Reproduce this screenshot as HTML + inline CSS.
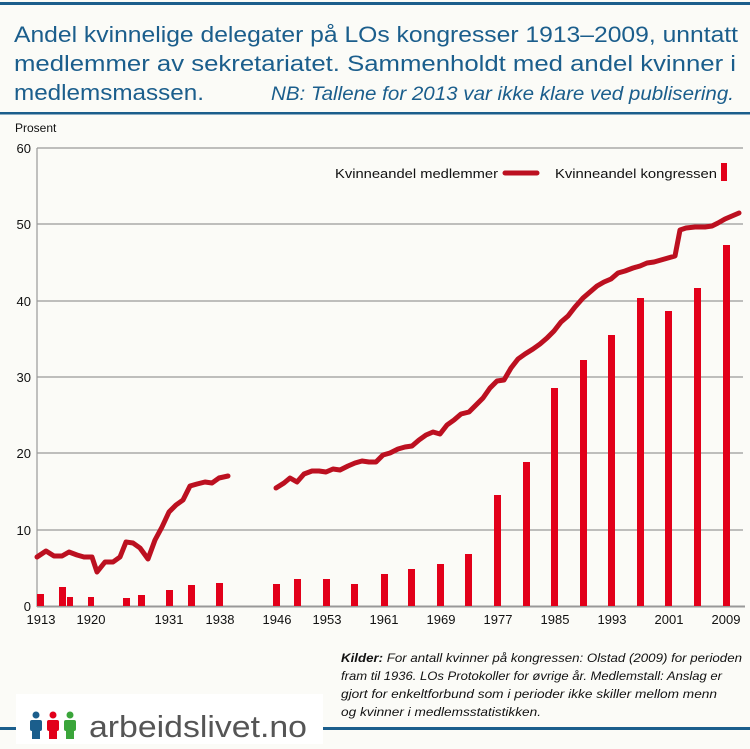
<!DOCTYPE html>
<html><head><meta charset="utf-8"><style>html,body{margin:0;padding:0;background:#fbfbf7}</style></head>
<body>
<svg width="750" height="744" viewBox="0 0 750 744" xmlns="http://www.w3.org/2000/svg" font-family="Liberation Sans, sans-serif">
<rect width="750" height="744" fill="#fbfbf7"/>
<rect x="0" y="2" width="750" height="3" fill="#1b5e8c"/>
<rect x="0" y="112" width="750" height="2.5" fill="#1b5e8c"/>
<g fill="#1b5e8c" font-size="22">
<text x="14" y="42" textLength="724" lengthAdjust="spacingAndGlyphs">Andel kvinnelige delegater på LOs kongresser 1913–2009, unntatt</text>
<text x="14" y="71" textLength="722" lengthAdjust="spacingAndGlyphs">medlemmer av sekretariatet. Sammenholdt med andel kvinner i</text>
<text x="14" y="100" textLength="190" lengthAdjust="spacingAndGlyphs">medlemsmassen.</text>
<text x="271" y="100" font-size="19" font-style="italic" textLength="463" lengthAdjust="spacingAndGlyphs">NB: Tallene for 2013 var ikke klare ved publisering.</text>
</g>
<text x="15" y="132" font-size="12" fill="#111">Prosent</text>
<g stroke="#999" stroke-width="1.2">
<line x1="37" y1="148" x2="743" y2="148"/><line x1="37" y1="224" x2="743" y2="224"/><line x1="37" y1="301" x2="743" y2="301"/><line x1="37" y1="377" x2="743" y2="377"/><line x1="37" y1="453" x2="743" y2="453"/><line x1="37" y1="530" x2="743" y2="530"/>
<line x1="37" y1="148" x2="37" y2="607"/>
</g>
<line x1="37" y1="606.5" x2="745" y2="606.5" stroke="#999" stroke-width="2"/>
<g font-size="13" fill="#111" text-anchor="end">
<text x="31" y="153">60</text><text x="31" y="229">50</text><text x="31" y="306">40</text><text x="31" y="382">30</text><text x="31" y="458">20</text><text x="31" y="535">10</text><text x="31" y="611">0</text>
</g>
<g fill="#e2001a">
<rect x="37" y="594" width="7" height="12"/><rect x="59" y="587" width="7" height="19"/><rect x="67" y="597" width="6" height="9"/><rect x="88" y="597" width="6" height="9"/><rect x="123" y="598" width="7" height="8"/><rect x="138" y="595" width="7" height="11"/><rect x="166" y="590" width="7" height="16"/><rect x="188" y="585" width="7" height="21"/><rect x="216" y="583" width="7" height="23"/><rect x="273" y="584" width="7" height="22"/><rect x="294" y="579" width="7" height="27"/><rect x="323" y="579" width="7" height="27"/><rect x="351" y="584" width="7" height="22"/><rect x="381" y="574" width="7" height="32"/><rect x="408" y="569" width="7" height="37"/><rect x="437" y="564" width="7" height="42"/><rect x="465" y="554" width="7" height="52"/><rect x="494" y="495" width="7" height="111"/><rect x="523" y="462" width="7" height="144"/><rect x="551" y="388" width="7" height="218"/><rect x="580" y="360" width="7" height="246"/><rect x="608" y="335" width="7" height="271"/><rect x="637" y="298" width="7" height="308"/><rect x="665" y="311" width="7" height="295"/><rect x="694" y="288" width="7" height="318"/><rect x="723" y="245" width="7" height="361"/>
<rect x="721" y="163" width="6" height="18"/>
</g>
<g fill="none" stroke="#bc1020" stroke-width="5" stroke-linejoin="round" stroke-linecap="round">
<polyline points="37,557 46,551 54,556 62,556 69,552 77,555 84,557 92,557 97,572 105,562 113,562 120,557 126,542 133,543 140,548 148,559 155,540 162,527 169,512 176,505 183,500 190,486 197,484 205,482 212,483 219,478 228,476"/>
<polyline points="276,488 284,483 290,478 297,482 304,474 312,471 319,471 326,472 333,469 340,470 348,466 355,463 362,461 369,462 376,462 383,455 390,453 398,449 405,447 412,446 419,440 426,435 433,432 440,434 447,425 454,420 461,414 469,412 476,405 483,398 490,388 497,381 504,380 511,368 518,359 525,354 533,349 540,344 547,338 554,331 561,322 568,316 575,307 583,298 590,292 597,286 604,282 611,279 618,273 625,271 633,268 640,266 647,263 654,262 661,260 668,258 675,256 680,230 686,228 695,227 705,227 712,226 718,223 725,219 732,216 739,213"/>
<line x1="505" y1="173" x2="537" y2="173"/>
</g>
<g font-size="13" fill="#111">
<text x="335" y="178" textLength="163" lengthAdjust="spacingAndGlyphs">Kvinneandel medlemmer</text>
<text x="555" y="178" textLength="162" lengthAdjust="spacingAndGlyphs">Kvinneandel kongressen</text>
</g>
<g font-size="13" fill="#111" text-anchor="middle">
<text x="41" y="624">1913</text><text x="91" y="624">1920</text><text x="169" y="624">1931</text><text x="220" y="624">1938</text><text x="277" y="624">1946</text><text x="327" y="624">1953</text><text x="384" y="624">1961</text><text x="441" y="624">1969</text><text x="498" y="624">1977</text><text x="555" y="624">1985</text><text x="612" y="624">1993</text><text x="669" y="624">2001</text><text x="726" y="624">2009</text>
</g>
<g font-size="12" font-style="italic" fill="#111">
<text x="341" y="662" textLength="401" lengthAdjust="spacingAndGlyphs"><tspan font-weight="bold">Kilder:</tspan>  For antall kvinner på kongressen: Olstad (2009) for perioden</text>
<text x="341" y="680" textLength="381" lengthAdjust="spacingAndGlyphs">fram til 1936. LOs Protokoller for øvrige år.  Medlemstall: Anslag er</text>
<text x="341" y="698" textLength="376" lengthAdjust="spacingAndGlyphs">gjort for  enkeltforbund som i perioder ikke skiller mellom menn</text>
<text x="341" y="716" textLength="200" lengthAdjust="spacingAndGlyphs">og kvinner  i medlemsstatistikken.</text>
</g>
<rect x="0" y="727" width="750" height="3" fill="#1b5e8c"/>
<rect x="16" y="694" width="307" height="50" fill="#ffffff"/>
<g>
<circle cx="36" cy="715" r="3.5" fill="#1b5e8c"/><rect x="30" y="720" width="12" height="11" rx="2" fill="#1b5e8c"/><rect x="32" y="729" width="8" height="10" fill="#1b5e8c"/>
<circle cx="53" cy="715" r="3.5" fill="#e2001a"/><rect x="47" y="720" width="12" height="11" rx="2" fill="#e2001a"/><rect x="49" y="729" width="8" height="10" fill="#e2001a"/>
<circle cx="70" cy="715" r="3.5" fill="#3aa53a"/><rect x="64" y="720" width="12" height="11" rx="2" fill="#3aa53a"/><rect x="66" y="729" width="8" height="10" fill="#3aa53a"/>
</g>
<text x="89" y="737" font-size="31" fill="#555" textLength="218" lengthAdjust="spacingAndGlyphs">arbeidslivet.no</text>
</svg>
</body></html>
